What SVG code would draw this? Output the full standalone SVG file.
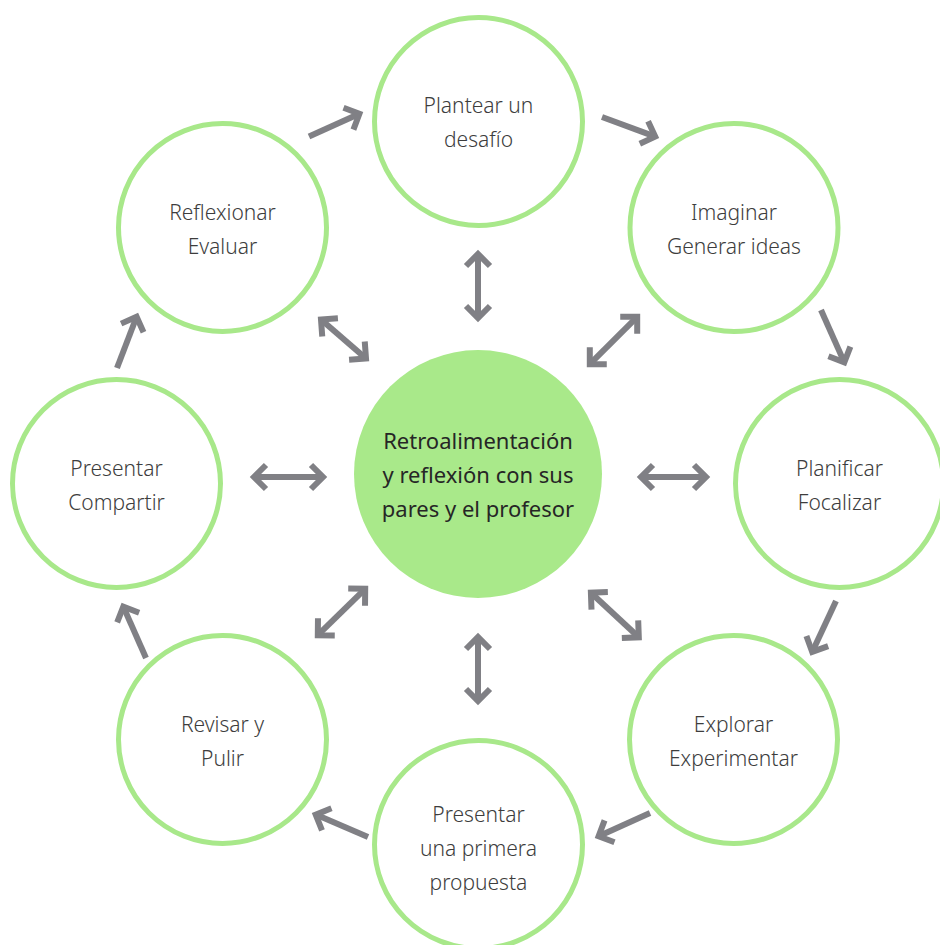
<svg xmlns="http://www.w3.org/2000/svg" width="940" height="945" viewBox="0 0 940 945">
<style>
.node circle{fill:#ffffff;stroke:#a8e88a;stroke-width:5}
.node text{font-family:"Noto Sans","Open Sans","Liberation Sans",sans-serif;font-weight:300;font-size:21px;fill:#3d3d3d;text-anchor:middle}
#center circle{fill:#a9e98a;stroke:none}
#center text{font-family:"Noto Sans","Open Sans","Liberation Sans",sans-serif;font-weight:400;font-size:22px;fill:#262626;text-anchor:middle}
#connectors line{stroke:#808085;stroke-width:6;fill:none}
.one{marker-end:url(#ah)}
.two{marker-start:url(#ah);marker-end:url(#ah)}
</style>
<defs>
<marker id="ah" markerUnits="userSpaceOnUse" viewBox="-20 -20 30 40" refX="0" refY="0" markerWidth="30" markerHeight="40" orient="auto-start-reverse" overflow="visible">
<path d="M-12,-12 L0,0 L-12,12" fill="none" stroke="#808085" stroke-width="6"/>
</marker>
</defs>
<rect width="940" height="945" fill="#ffffff"/>
<g id="connectors">
<line class="one" x1="309" y1="136.5" x2="359.4" y2="113.7"/>
<line class="one" x1="602" y1="117" x2="655.2" y2="136.6"/>
<line class="one" x1="821" y1="310" x2="844.3" y2="362.4"/>
<line class="one" x1="836" y1="601" x2="812.2" y2="651.9"/>
<line class="one" x1="650" y1="813" x2="598.6" y2="836.3"/>
<line class="one" x1="368" y1="837" x2="315.7" y2="814.6"/>
<line class="one" x1="146" y1="658" x2="123.3" y2="606.6"/>
<line class="one" x1="117" y1="368" x2="136.6" y2="316.7"/>
<line class="two" x1="478" y1="254" x2="478" y2="318"/>
<line class="two" x1="478" y1="637" x2="478" y2="701"/>
<line class="two" x1="254" y1="477" x2="323" y2="477"/>
<line class="two" x1="641" y1="477" x2="706" y2="477"/>
<line class="two" x1="321" y1="319.6" x2="366" y2="358.4"/>
<line class="two" x1="637.2" y1="316.8" x2="589.8" y2="364.2"/>
<line class="two" x1="365.2" y1="588.8" x2="317.8" y2="635.2"/>
<line class="two" x1="590.9" y1="592.7" x2="638.8" y2="637.3"/>
</g>
<g id="center">
<circle cx="478" cy="474" r="124"/>
<text x="478" y="449">Retroalimentación</text>
<text x="478" y="483">y reflexión con sus</text>
<text x="478" y="517">pares y el profesor</text>
</g>
<g id="plantear" class="node">
<circle cx="478.5" cy="121.5" r="104"/>
<text x="478.5" y="113">Plantear un</text>
<text x="478.5" y="147">desafío</text>
</g>
<g id="imaginar" class="node">
<circle cx="734" cy="227.5" r="104"/>
<text x="734" y="220">Imaginar</text>
<text x="734" y="254">Generar ideas</text>
</g>
<g id="planificar" class="node">
<circle cx="839.5" cy="483.5" r="104"/>
<text x="839.5" y="476">Planificar</text>
<text x="839.5" y="510">Focalizar</text>
</g>
<g id="explorar" class="node">
<circle cx="733.5" cy="739.5" r="104"/>
<text x="733.5" y="732">Explorar</text>
<text x="733.5" y="766">Experimentar</text>
</g>
<g id="propuesta" class="node">
<circle cx="478.5" cy="844.5" r="104"/>
<text x="478.5" y="822">Presentar</text>
<text x="478.5" y="856">una primera</text>
<text x="478.5" y="890">propuesta</text>
</g>
<g id="revisar" class="node">
<circle cx="222.5" cy="739.5" r="104"/>
<text x="222.5" y="732">Revisar y</text>
<text x="222.5" y="766">Pulir</text>
</g>
<g id="compartir" class="node">
<circle cx="116.5" cy="483.5" r="104"/>
<text x="116.5" y="476">Presentar</text>
<text x="116.5" y="510">Compartir</text>
</g>
<g id="reflexionar" class="node">
<circle cx="222.5" cy="227.5" r="104"/>
<text x="222.5" y="220">Reflexionar</text>
<text x="222.5" y="254">Evaluar</text>
</g>
</svg>
